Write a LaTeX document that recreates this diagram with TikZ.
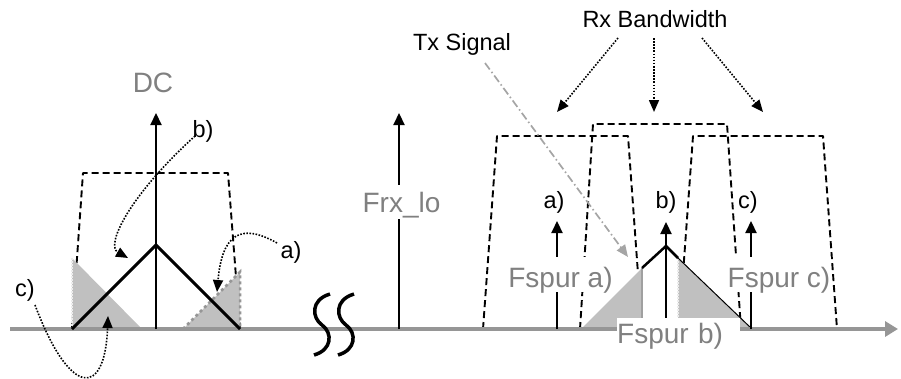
\documentclass[tikz,border=0pt]{standalone}
\usepackage{fontspec}
\setmainfont{Liberation Sans}
\usetikzlibrary{arrows.meta}
\definecolor{axisgray}{RGB}{150,150,150}
\definecolor{labelgray}{RGB}{128,128,128}
\definecolor{fillgray}{RGB}{192,192,192}
\definecolor{txgray}{RGB}{165,165,165}
\definecolor{edgegray}{RGB}{160,160,160}
\tikzset{
  blk/.style={font=\fontsize{23.5}{26}\selectfont, inner sep=0pt},
  glabel/.style={font=\fontsize{28}{30}\selectfont, text=labelgray, inner sep=0pt},
  gbox/.style={glabel, fill=white, anchor=base, inner xsep=1pt},
  rxbox/.style={draw=black, line width=1.9pt, dash pattern=on 7pt off 4pt, line join=round},
  tone/.style={draw=black, line width=2.2pt, -{Triangle[length=12pt,width=11pt]}},
  dotarrow/.style={draw=black, line width=1.6pt, dash pattern=on 1.6pt off 1.5pt, -{Triangle[length=12pt,width=10pt]}},
  txarrow/.style={draw=txgray, line width=1.7pt, dash pattern=on 8pt off 3pt on 1.5pt off 3pt, -{Triangle[length=12pt,width=10pt]}},
  squig/.style={draw=black, line width=3.5pt},
  vline/.style={draw=black, line width=3pt, line join=miter},
}
\begin{document}
\begin{tikzpicture}[x=1pt,y=-1pt]
\useasboundingbox (0,0) rectangle (901,378);
% ---------- left part (DC) ----------
\draw[rxbox] (72,329) -- (83,173) -- (228,173) -- (240,329);
\fill[fillgray] (72,258) -- (142,329) -- (72,329) -- cycle;
\draw[white!85!gray, line width=1.2pt, dash pattern=on 1.5pt off 1.5pt] (72,258) -- (72,329);
\fill[fillgray] (183,329) -- (240,272) -- (240,329) -- cycle;
\draw[axisgray, line width=2.5pt, dash pattern=on 3pt off 3pt] (183,329) -- (240,272) -- (240,329);
% ---------- right part boxes ----------
\draw[rxbox] (483,329) -- (497,136) -- (628,136) -- (642,329);
\draw[rxbox] (580,329) -- (593,124) -- (727,124) -- (741,329);
\draw[rxbox] (679,329) -- (693,136) -- (823,136) -- (837,329);
% Tx signal triangle
\fill[white] (581,329) -- (666,246) -- (752,329) -- cycle;
\fill[fillgray] (581,329) -- (642,268) -- (642,329) -- cycle;
\draw[edgegray, line width=2pt] (642,268) -- (642,329);
\fill[fillgray] (678,258) -- (752,329) -- (678,329) -- cycle;
\draw[white!85!gray, line width=1.2pt, dash pattern=on 1.5pt off 1.5pt] (678,258) -- (678,318);
\draw[black, line width=2.5pt, line join=miter] (642,268) -- (666,246) -- (678,258);
\draw[black, line width=1pt] (678,258) -- (752,329);
% ---------- axis ----------
\coordinate (ax0) at (10,329);
\coordinate (ax1) at (898,329);
\draw[axisgray, line width=4.8pt, -{Triangle[length=13pt,width=15pt]}] (ax0) -- (ax1);
% break marks
\draw[squig] (330,294) .. controls (310,300) and (312,318) .. (322,325) .. controls (333,333) and (332,350) .. (314,355);
\draw[squig] (354,294) .. controls (334,300) and (336,318) .. (346,325) .. controls (357,333) and (356,350) .. (338,355);
% V shape at DC
\draw[vline] (72,329) -- (156,245) -- (240,329);
% tones
\coordinate (dc0) at (156,329);   \coordinate (dc1) at (156,113);
\coordinate (lo0) at (399,329);   \coordinate (lo1) at (399,113);
\coordinate (sa0) at (557,329);   \coordinate (sa1) at (557,221);
\coordinate (sb0) at (666,329);   \coordinate (sb1) at (666,222);
\coordinate (sc0) at (751,329);   \coordinate (sc1) at (751,221);
\draw[tone] (dc0) -- (dc1);
\draw[tone] (lo0) -- (lo1);
\draw[tone] (sa0) -- (sa1);
\draw[tone] (sb0) -- (sb1);
\draw[tone] (sc0) -- (sc1);
% ---------- labels ----------
\node[glabel, anchor=base] (dc) at (153,92) {DC};
\node[gbox, text height=27pt, text depth=7pt] (frx) at (401.5,212) {Frx\_lo};
\node[gbox, text height=30pt, text depth=5pt] (fa) at (560.5,287) {Fspur a)};
\node[gbox, text height=30pt, text depth=5pt] (fc) at (779,287) {Fspur c)};
\node[glabel, fill=white, anchor=base west, inner xsep=0pt, text width=123pt, align=left, text height=25pt, text depth=10pt] (fb) at (617,343) {Fspur b)};
\node[blk] (la) at (554,202) {a)};
\node[blk] (lb) at (666,202) {b)};
\node[blk] (lc) at (748,202) {c)};
\node[blk] (lbl) at (203,131) {b)};
\node[blk] (lal) at (291,252) {a)};
\node[blk] (lcl) at (25,290) {c)};
\node[blk, anchor=base] (rx) at (655,27) {Rx Bandwidth};
\node[blk, anchor=base] (tx) at (462,50) {Tx Signal};
% ---------- pointer arrows ----------
\coordinate (rxL) at (618,38);  \coordinate (rxLt) at (557,112);
\coordinate (rxM) at (654,38);  \coordinate (rxMt) at (654,112);
\coordinate (rxR) at (702,38);  \coordinate (rxRt) at (763,112);
\draw[dotarrow] (rxL) -- (rxLt);
\draw[dotarrow] (rxM) -- (rxMt);
\draw[dotarrow] (rxR) -- (rxRt);
\coordinate (tx0) at (485,63);  \coordinate (tx1) at (628,257);
\draw[txarrow] (tx0) -- (tx1);
\coordinate (pb0) at (195,136); \coordinate (pb1) at (128,258);
\draw[dotarrow] (pb0) .. controls (130,195) and (105,245) .. (pb1);
\coordinate (pa0) at (277,243); \coordinate (pa1) at (217,292);
\draw[dotarrow] (pa0) .. controls (240,222) and (222,235) .. (pa1);
\coordinate (pc0) at (35,305);  \coordinate (pc1) at (108,316);
\draw[dotarrow] (pc0) .. controls (70,398) and (105,398) .. (pc1);
\end{tikzpicture}
\end{document}
